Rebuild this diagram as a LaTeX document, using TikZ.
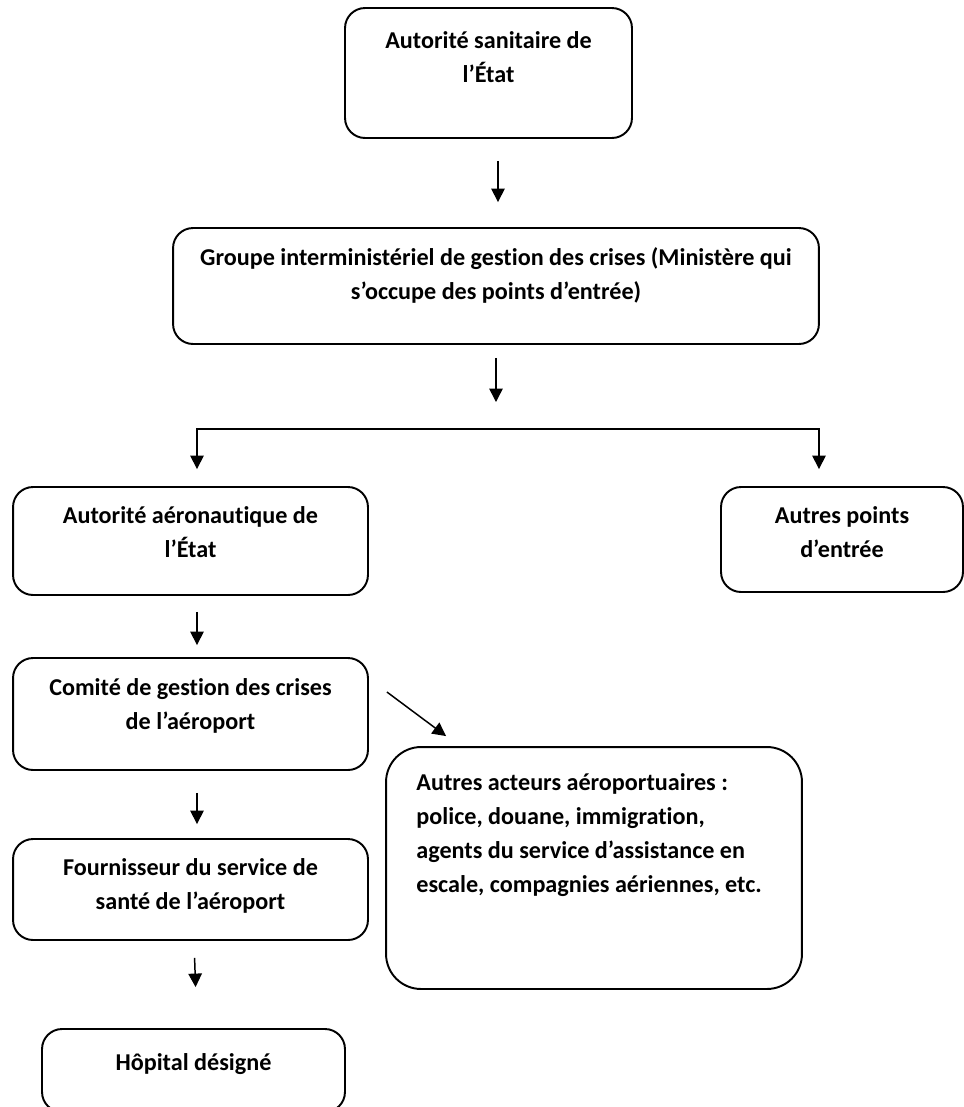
\documentclass[tikz,border=0pt]{standalone}
\usepackage{fontspec}
\setmainfont[Ligatures=NoCommon]{Carlito}
\usetikzlibrary{arrows.meta, positioning, calc}
\tikzset{
  box/.style={rectangle, draw=black, rounded corners=0.4cm, line width=1.1pt, inner sep=0pt},
  bigbox/.style={box, rounded corners=0.7cm},
  boxtext/.style={font=\fontsize{13.75}{19.3}\selectfont\bfseries, align=center, inner sep=0pt},
  arrow/.style={-{Triangle[length=0.27cm, width=0.27cm]}, line width=0.85pt},
  line/.style={line width=0.85pt}
}
\begin{document}
\begin{tikzpicture}[x=0.02cm, y=-0.02cm]
  \clip (0,0) rectangle (964,1107);

  \node[box, minimum width=5.74cm, minimum height=2.6cm] (sante) at (488.5,73) {};
  \node[boxtext, below=0.48cm of sante.north] (sante-t) {Autorité sanitaire de\\l’État};

  \node[box, minimum width=12.92cm, minimum height=2.32cm] (groupe) at (496,286) {};
  \node[boxtext, below=0.4cm of groupe.north] (groupe-t) {Groupe interministériel de gestion des crises (Ministère qui\\s’occupe des points d’entrée)};

  \node[box, minimum width=7.1cm, minimum height=2.16cm] (aero) at (190.5,541) {};
  \node[boxtext, below=0.4cm of aero.north] (aero-t) {Autorité aéronautique de\\l’État};

  \node[box, minimum width=4.84cm, minimum height=2.1cm] (points) at (842,539.5) {};
  \node[boxtext, below=0.4cm of points.north] (points-t) {Autres points\\d’entrée};

  \node[box, minimum width=7.1cm, minimum height=2.24cm] (comite) at (190.5,714) {};
  \node[boxtext, below=0.42cm of comite.north] (comite-t) {Comité de gestion des crises\\de l’aéroport};

  \node[bigbox, minimum width=8.32cm, minimum height=4.84cm] (acteurs) at (594,868) {};
  \node[boxtext, align=left, below right=0.54cm and 0.62cm of acteurs.north west] (acteurs-t) {Autres acteurs aéroportuaires :\\police, douane, immigration,\\agents du service d’assistance en\\escale, compagnies aériennes, etc.};

  \node[box, minimum width=7.1cm, minimum height=2.02cm] (fourn) at (190.5,889.5) {};
  \node[boxtext, below=0.4cm of fourn.north] (fourn-t) {Fournisseur du service de\\santé de l’aéroport};

  \node[box, minimum width=6.06cm, minimum height=1.66cm] (hopital) at (193.5,1070.5) {};
  \node[boxtext, below=0.5cm of hopital.north] (hopital-t) {Hôpital désigné};

  \coordinate (brL) at (197,429);
  \coordinate (brR) at (819,429);

  \draw[arrow, shorten <=0.44cm, shorten >=0.5cm] ([xshift=0.19cm]sante.south) -- ([xshift=0.19cm]sante.south |- groupe.north);
  \draw[arrow, shorten <=0.26cm, shorten >=0.54cm] (groupe.south) -- (groupe.south |- brL);
  \draw[arrow, shorten >=0.34cm] (brR) -- (brL) -- (brL |- aero.north);
  \draw[arrow, shorten >=0.34cm] (brL) -- (brR) -- (brR |- points.north);
  \draw[arrow, shorten <=0.32cm, shorten >=0.24cm] ([xshift=0.13cm]aero.south) -- ([xshift=0.13cm]comite.north);
  \draw[arrow] ([shift={(0.36cm,0.44cm)}]comite.east) -- ([shift={(1.22cm,0.2cm)}]acteurs.north west);
  \draw[arrow, shorten <=0.44cm, shorten >=0.28cm] ([xshift=0.13cm]comite.south) -- ([xshift=0.13cm]fourn.north);
  \draw[arrow, shorten <=0.34cm, shorten >=0.82cm] ([xshift=0.07cm]fourn.south) -- ([xshift=0.07cm]hopital.north);
\end{tikzpicture}
\end{document}
